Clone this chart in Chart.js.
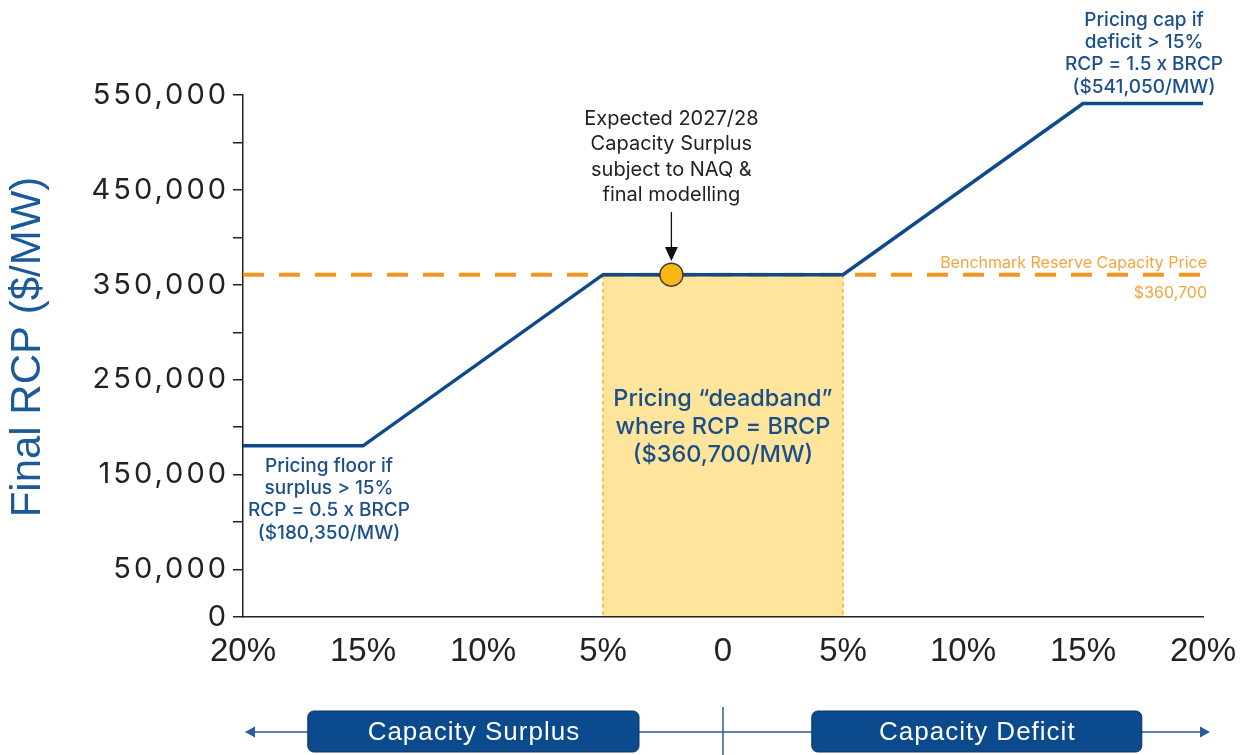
<!DOCTYPE html>
<html>
<head>
<meta charset="utf-8">
<script src="https://cdn.jsdelivr.net/npm/chart.js@4.4.1/dist/chart.umd.min.js"></script>
<style>
  html, body { margin: 0; padding: 0; background: #fff; }
  #wrap { width: 1240px; height: 755px; }
</style>
</head>
<body>
<div id="wrap"><canvas id="rcpChart" width="1240" height="755"></canvas></div>
<script>
  // Capacity surplus (negative) / deficit (positive), % of requirement
  const curveX = [-20, -15, -5, 5, 15, 20];
  const curveRCP = [180350, 180350, 360700, 360700, 541050, 541050];
  const brcpX = [-20, 20];
  const brcpValue = 360700;
  const deadbandX = [-5, 5];
  const expectedX = -2.15;
  const yLabelled = [0, 50000, 150000, 250000, 350000, 450000, 550000];
  const capText = ['Pricing cap if', 'deficit > 15%', 'RCP = 1.5 x BRCP', '($541,050/MW)'];
  const floorText = ['Pricing floor if', 'surplus > 15%', 'RCP = 0.5 x BRCP', '($180,350/MW)'];
  const deadbandText = ['Pricing \u201cdeadband\u201d', 'where RCP = BRCP', '($360,700/MW)'];
  const expectedText = ['Expected 2027/28', 'Capacity Surplus', 'subject to NAQ &', 'final modelling'];
  const brcpText = ['Benchmark Reserve Capacity Price', '$360,700'];
  const sideLabels = ['Capacity Surplus', 'Capacity Deficit'];
  const sideSpans = [[-17.3, -3.5], [3.7, 17.45]];

  const BLUE = '#0d4a8b';
  const TEXT_BLUE = '#1b4f8c';
  const ORANGE = '#f5961f';
  const ANNO_FONT = 'Inter, "Liberation Sans", sans-serif';

  function lines(ctx, arr, x, y0, step) {
    arr.forEach((t, i) => ctx.fillText(t, x, y0 + i * step));
  }

  const overlay = {
    id: 'overlay',
    beforeDraw(chart) {
      // wide tracking for the y tick labels (x axis is drawn later, z = 1)
      chart.ctx.letterSpacing = '3px';
    },
    beforeDatasetsDraw(chart) {
      const { ctx, scales: { x, y } } = chart;
      ctx.letterSpacing = '0px';
      const x1 = x.getPixelForValue(deadbandX[0]);
      const x2 = x.getPixelForValue(deadbandX[1]);
      const yt = y.getPixelForValue(brcpValue);
      const yb = y.getPixelForValue(0);
      ctx.save();
      ctx.fillStyle = '#fee59b';
      ctx.fillRect(x1, yt, x2 - x1, yb - yt);
      ctx.strokeStyle = '#f5b70f';
      ctx.lineWidth = 1.5;
      ctx.setLineDash([4, 3]);
      ctx.beginPath();
      ctx.moveTo(x1, yt); ctx.lineTo(x1, yb);
      ctx.moveTo(x2, yt); ctx.lineTo(x2, yb);
      ctx.stroke();
      ctx.restore();
    },
    afterDatasetsDraw(chart) {
      const { ctx, scales: { x, y } } = chart;
      ctx.save();
      ctx.textAlign = 'center';
      ctx.textBaseline = 'middle';

      // blue annotations
      ctx.fillStyle = TEXT_BLUE;
      ctx.font = '500 19px ' + ANNO_FONT;
      lines(ctx, capText, 1144, 20, 22.3);
      lines(ctx, floorText, 329, 466, 22.3);
      ctx.font = '500 23.5px ' + ANNO_FONT;
      lines(ctx, deadbandText, x.getPixelForValue(0), 399, 28);

      // expected surplus note + arrow
      const ex = x.getPixelForValue(expectedX);
      ctx.fillStyle = '#222';
      ctx.font = '400 20px ' + ANNO_FONT;
      lines(ctx, expectedText, ex, 119, 25.4);
      ctx.strokeStyle = '#111';
      ctx.lineWidth = 1.3;
      ctx.beginPath();
      ctx.moveTo(ex, 212); ctx.lineTo(ex, 250);
      ctx.stroke();
      ctx.fillStyle = '#111';
      ctx.beginPath();
      ctx.moveTo(ex - 6.5, 247); ctx.lineTo(ex + 6.5, 247); ctx.lineTo(ex, 261);
      ctx.closePath(); ctx.fill();

      // BRCP label
      ctx.fillStyle = '#f6a53e';
      ctx.textAlign = 'right';
      ctx.font = '400 16px ' + ANNO_FONT;
      ctx.fillText(brcpText[0], 1207, 263);
      ctx.fillText(brcpText[1], 1207, 293);

      // y title
      ctx.save();
      ctx.translate(28, 347);
      ctx.rotate(-Math.PI / 2);
      ctx.textAlign = 'center';
      ctx.fillStyle = '#1b5a98';
      ctx.font = '400 42px "Liberation Sans", Arial, sans-serif';
      ctx.fillText('Final RCP ($/MW)', 0, 0);
      ctx.restore();

      // surplus / deficit strip
      const lx = x.getPixelForValue(-20), rx = x.getPixelForValue(20), cx = x.getPixelForValue(0);
      const ly = 732;
      ctx.strokeStyle = '#2a5c9a';
      ctx.fillStyle = '#2a5c9a';
      ctx.lineWidth = 1.5;
      ctx.beginPath();
      ctx.moveTo(lx + 6, ly); ctx.lineTo(rx - 2, ly);
      ctx.moveTo(cx, 707); ctx.lineTo(cx, 755);
      ctx.stroke();
      ctx.beginPath();
      ctx.moveTo(lx + 2, ly); ctx.lineTo(lx + 12, ly - 5.5); ctx.lineTo(lx + 12, ly + 5.5); ctx.closePath(); ctx.fill();
      ctx.beginPath();
      ctx.moveTo(rx + 7, ly); ctx.lineTo(rx - 3, ly - 5.5); ctx.lineTo(rx - 3, ly + 5.5); ctx.closePath(); ctx.fill();

      sideSpans.forEach(([a, b], i) => {
        const b1 = x.getPixelForValue(a), b2 = x.getPixelForValue(b);
        ctx.beginPath();
        ctx.roundRect(b1, 711, b2 - b1, 41, 6);
        ctx.fillStyle = '#0b4a8c';
        ctx.fill();
        ctx.strokeStyle = '#0a3566';
        ctx.lineWidth = 1;
        ctx.stroke();
        ctx.fillStyle = '#fff';
        ctx.textAlign = 'center';
        ctx.letterSpacing = '1px';
        ctx.font = '400 26px "Liberation Sans", Arial, sans-serif';
        ctx.fillText(sideLabels[i], (b1 + b2) / 2 + 0.5, 733);
        ctx.letterSpacing = '0px';
      });
      ctx.restore();
    }
  };

  new Chart(document.getElementById('rcpChart'), {
    type: 'line',
    data: {
      datasets: [
        {
          label: 'Expected 2027/28',
          data: [{ x: expectedX, y: brcpValue }],
          showLine: false,
          pointRadius: 11.5,
          pointBackgroundColor: '#f9b713',
          pointBorderColor: '#3a3a3a',
          pointBorderWidth: 1.5
        },
        {
          label: 'Final RCP',
          data: curveX.map((v, i) => ({ x: v, y: curveRCP[i] })),
          borderColor: BLUE,
          borderWidth: 3.5,
          pointRadius: 0,
          tension: 0
        },
        {
          label: 'BRCP',
          data: brcpX.map(v => ({ x: v, y: brcpValue })),
          borderColor: ORANGE,
          borderWidth: 4,
          borderDash: [21, 15],
          pointRadius: 0
        }
      ]
    },
    options: {
      responsive: false,
      animation: false,
      devicePixelRatio: 1,
      layout: { padding: { top: 95, right: 37, left: 0, bottom: 0 } },
      plugins: { legend: { display: false }, tooltip: { enabled: false } },
      scales: {
        x: {
          type: 'linear',
          min: -20,
          max: 20,
          afterFit(scale) { scale.height = 138; scale.paddingRight = 0; scale.paddingLeft = 0; },
          grid: { display: false, z: 1 },
          border: { display: true, color: '#222', width: 1.5, z: 1 },
          ticks: {
            z: 1,
            stepSize: 5,
            padding: 7,
            color: '#222',
            font: { family: '"Liberation Sans", sans-serif', size: 33 },
            callback: v => v === 0 ? '0' : Math.abs(v) + '%'
          }
        },
        y: {
          min: 0,
          max: 550000,
          afterFit(scale) { scale.width = 243; },
          grid: { drawOnChartArea: false, drawTicks: true, tickLength: 10, color: '#222', lineWidth: 1.5 },
          border: { display: true, color: '#222', width: 1.5 },
          ticks: {
            stepSize: 50000,
            padding: 4,
            color: '#222',
            font: { family: 'Inter, "Liberation Sans", sans-serif', size: 29 },
            callback: v => yLabelled.includes(v) ? v.toLocaleString('en-US') : ''
          }
        }
      }
    },
    plugins: [overlay]
  });
</script>
</body>
</html>
